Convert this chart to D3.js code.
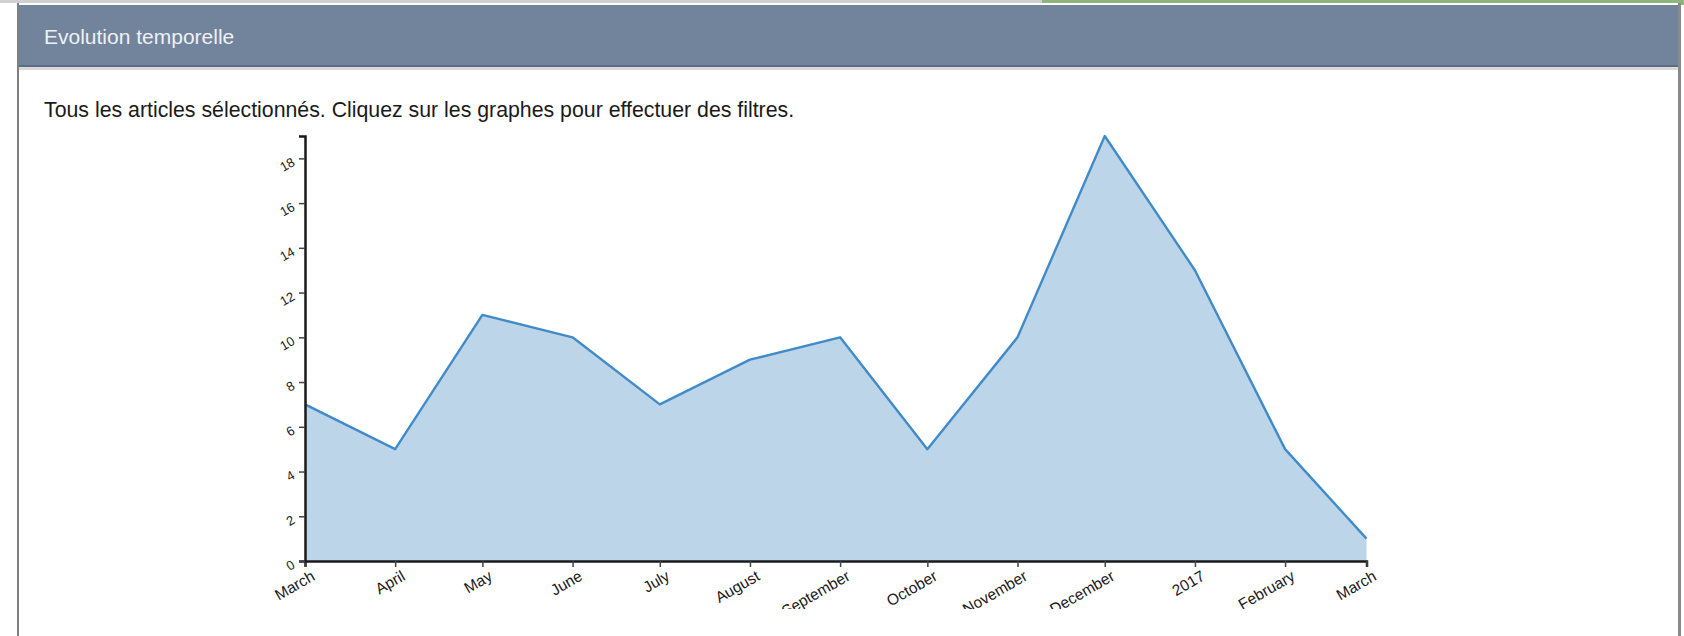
<!DOCTYPE html>
<html lang="fr">
<head>
<meta charset="utf-8">
<title>Evolution temporelle</title>
<script src="https://cdn.jsdelivr.net/npm/d3@7"></script>
<style>
  html, body { margin: 0; padding: 0; background: #fff; overflow: hidden; }
  body { width: 1684px; height: 636px; position: relative; font-family: "Liberation Sans", Arial, Helvetica, sans-serif; }
  .topline { position: absolute; left: 0; top: 0; width: 1042px; height: 3px; background: #d0d0d0; }
  .topbar { position: absolute; left: 1042px; top: 0; width: 642px; height: 5px; background: #8fb57a; }
  .panel { position: absolute; left: 17px; top: 3px; width: 1659px; height: 700px;
           border-left: 2px solid #808080; border-right: 3px solid #8a8a8a; background: #fff; }
  .panel-head { position: absolute; left: 0; top: 2px; right: 0; height: 60px; background: #72849c;
                border-bottom: 2px solid #5c6c82; }
  .panel-head-shadow { position: absolute; left: 0; right: 0; top: 64px; height: 3px; background: #d9d9d9; }
  .panel-title { position: absolute; left: 25px; top: 20px; font-size: 21px; color: #eef1f5; }
  .panel-sub { position: absolute; left: 25px; top: 95px; font-size: 21.3px; color: #1a1a1a; white-space: nowrap; }
  #chart { position: absolute; left: 245px; top: 125px; }
</style>
</head>
<body>
<div class="topline"></div>
<div class="topbar"></div>
<div class="panel">
  <div class="panel-head"><div class="panel-title">Evolution temporelle</div></div>
  <div class="panel-head-shadow"></div>
  <div class="panel-sub">Tous les articles sélectionnés. Cliquez sur les graphes pour effectuer des filtres.</div>
</div>
<svg id="chart"></svg>
<script>
// Monthly article counts
const monthDates = ["2016-03-01", "2016-04-01", "2016-05-01", "2016-06-01", "2016-07-01", "2016-08-01",
                    "2016-09-01", "2016-10-01", "2016-11-01", "2016-12-01", "2017-01-01", "2017-02-01", "2017-03-01"];
const articleCounts = [7, 5, 11, 10, 7, 9, 10, 5, 10, 19, 13, 5, 1];
const monthLabels = ["March", "April", "May", "June", "July", "August", "September",
                     "October", "November", "December", "2017", "February", "March"];
const countTicks = [0, 2, 4, 6, 8, 10, 12, 14, 16, 18];

const parse = d3.timeParse("%Y-%m-%d");
const data = monthDates.map((d, i) => ({ date: parse(d), count: articleCounts[i] }));

const margin = { top: 11, right: 60, bottom: 48, left: 60 };
const svgW = 1200, svgH = 484;
const width = 1061.5, height = svgH - margin.top - margin.bottom;

const svg = d3.select("#chart")
  .attr("width", svgW)
  .attr("height", svgH)
  .style("overflow", "hidden");

const g = svg.append("g").attr("transform", `translate(${margin.left},${margin.top})`);

const x = d3.scaleTime()
  .domain(d3.extent(data, d => d.date))
  .range([0, width]);

const y = d3.scaleLinear()
  .domain([0, d3.max(data, d => d.count)])
  .range([height, 0]);

const area = d3.area()
  .x(d => x(d.date))
  .y0(y(0))
  .y1(d => y(d.count));

const line = d3.line()
  .x(d => x(d.date))
  .y(d => y(d.count));

g.append("path")
  .datum(data)
  .attr("d", area)
  .attr("fill", "#bcd5e9");

g.append("path")
  .datum(data)
  .attr("d", line)
  .attr("fill", "none")
  .attr("stroke", "#418bc9")
  .attr("stroke-width", 2.4)
  .attr("stroke-linejoin", "round");

const tickDates = data.map(d => d.date);

const xAxis = g.append("g")
  .attr("transform", `translate(0,${height})`)
  .call(d3.axisBottom(x)
    .tickValues(tickDates)
    .tickFormat((d, i) => monthLabels[i])
    .tickSize(6));

const yAxis = g.append("g")
  .call(d3.axisLeft(y)
    .tickValues(countTicks)
    .tickSize(6));

[xAxis, yAxis].forEach(ax => {
  ax.select(".domain").attr("stroke", "#1a1a1a").attr("stroke-width", 2.5);
  ax.selectAll(".tick line").attr("stroke", "#444").attr("stroke-width", 1.5);
});

// Slanted month labels under the time axis
xAxis.selectAll(".tick text")
  .attr("font-family", "'Liberation Sans', Arial, Helvetica, sans-serif")
  .attr("font-size", 15.5)
  .attr("fill", "#1a1a1a")
  .attr("text-anchor", "end")
  .attr("x", 0)
  .attr("y", 21)
  .attr("dy", 0)
  .attr("transform", "rotate(-30)");

// Count labels, slanted the same way
yAxis.selectAll(".tick text")
  .attr("font-family", "'Liberation Sans', Arial, Helvetica, sans-serif")
  .attr("font-size", 13)
  .attr("fill", "#1a1a1a")
  .attr("text-anchor", "end")
  .attr("x", -11)
  .attr("y", 0.5)
  .attr("dy", 0)
  .attr("transform", "rotate(-30)");
</script>
</body>
</html>
